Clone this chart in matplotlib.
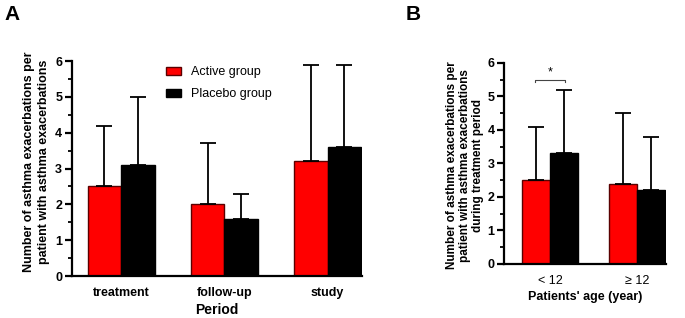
import numpy as np
import matplotlib.pyplot as plt
from matplotlib.ticker import MultipleLocator

plt.rcParams['font.family'] = ['Liberation Sans', 'DejaVu Sans']

# panel A data
periods = ["treatment", "follow-up", "study"]
active_mean = [2.5, 2.0, 3.2]
active_upper = [4.2, 3.7, 5.9]
placebo_mean = [3.1, 1.6, 3.6]
placebo_upper = [5.0, 2.3, 5.9]

# panel B data
ages = ["< 12", "\u2265 12"]
age_active_mean = [2.5, 2.4]
age_active_upper = [4.1, 4.5]
age_placebo_mean = [3.3, 2.2]
age_placebo_upper = [5.2, 3.8]

red = '#ff0000'
black = '#000000'


def draw_bars(ax, labels, a_mean, a_up, p_mean, p_up, width):
    x = np.arange(len(labels))
    a_err = [np.zeros(len(a_mean)), np.array(a_up) - np.array(a_mean)]
    p_err = [np.zeros(len(p_mean)), np.array(p_up) - np.array(p_mean)]
    ekw = dict(elinewidth=1.3, capthick=1.3, ecolor='black')
    ax.bar(x - width / 2, a_mean, width, color=red, edgecolor='#5a0000', linewidth=1.0,
           yerr=a_err, capsize=6, error_kw=ekw, label='Active group', zorder=2)
    ax.bar(x + width / 2, p_mean, width, color=black, edgecolor='black', linewidth=1.0,
           yerr=p_err, capsize=6, error_kw=ekw, label='Placebo group', zorder=2)
    ax.set_xticks(x)
    ax.set_ylim(0, 6)
    ax.yaxis.set_major_locator(MultipleLocator(1))
    ax.yaxis.set_minor_locator(MultipleLocator(0.5))
    for s in ['top', 'right']:
        ax.spines[s].set_visible(False)
    for s in ['left', 'bottom']:
        ax.spines[s].set_linewidth(1.6)
    ax.tick_params(axis='y', which='major', length=5, width=1.6, labelsize=9, pad=2)
    ax.tick_params(axis='y', which='minor', length=3, width=1.3)
    ax.tick_params(axis='x', length=0, pad=8)
    for t in ax.get_yticklabels():
        t.set_fontweight('bold')
    return x


fig = plt.figure(figsize=(6.85, 3.18), dpi=100)

axA = fig.add_axes([0.105, 0.132, 0.423, 0.676])
draw_bars(axA, periods, active_mean, active_upper, placebo_mean, placebo_upper, 0.325)
axA.set_xlim(-0.476, 2.33)
axA.set_xticklabels(periods, fontsize=9, fontweight='bold')
axA.set_xlabel('Period', fontsize=10, fontweight='bold', labelpad=3)
axA.text(-0.121, 0.53, 'Number of asthma exacerbations per\npatient with asthma exacerbations',
         transform=axA.transAxes, rotation=90, ha='center', va='center',
         multialignment='center', fontsize=9, fontweight='bold', linespacing=1.35)
axA.legend(loc='upper left', bbox_to_anchor=(0.324, 0.975), frameon=False, fontsize=9,
           borderpad=0, borderaxespad=0, handlelength=1.25, handleheight=0.7,
           handletextpad=0.8, labelspacing=0.8)

axB = fig.add_axes([0.736, 0.170, 0.236, 0.632])
draw_bars(axB, ages, age_active_mean, age_active_upper, age_placebo_mean, age_placebo_upper, 0.32)
axB.set_xlim(-0.53, 1.333)
axB.set_xticklabels(ages, fontsize=9)
axB.set_xlabel("Patients' age (year)", fontsize=9, fontweight='bold', labelpad=3)
axB.text(-0.24, 0.49, 'Number of asthma exacerbations per\npatient with asthma exacerbations\nduring treatment period',
         transform=axB.transAxes, rotation=90, ha='center', va='center',
         multialignment='center', fontsize=8.5, fontweight='bold', linespacing=1.1)
# significance bracket
axB.plot([-0.17, -0.17, 0.17, 0.17], [5.42, 5.5, 5.5, 5.42], color='#444444', lw=0.8, clip_on=False)
axB.text(0.0, 5.55, '*', ha='center', va='bottom', fontsize=9)

fig.text(0.006, 0.937, 'A', fontsize=15, fontweight='bold')
fig.text(0.592, 0.937, 'B', fontsize=15, fontweight='bold')

fig.savefig('out.png', dpi=100)
